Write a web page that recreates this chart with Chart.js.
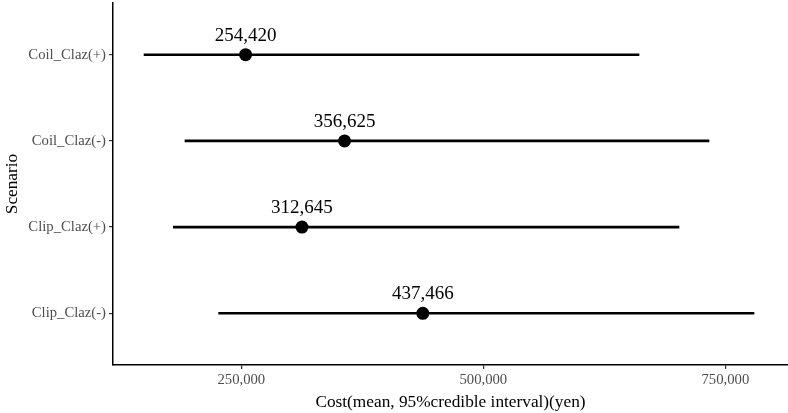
<!DOCTYPE html>
<html>
<head>
<meta charset="utf-8">
<script src="https://cdn.jsdelivr.net/npm/chart.js@4"></script>
<style>
  html, body { margin:0; padding:0; background:#fff; }
  #wrap { width:788px; height:413px; }
</style>
</head>
<body>
<div id="wrap"><canvas id="chart"></canvas></div>
<script>
// ================= DATA =================
// bottom -> top, like the picture (y = 1 is the lowest row)
const scenarios = ["Clip_Claz(-)", "Clip_Claz(+)", "Coil_Claz(-)", "Coil_Claz(+)"];
const meanCost  = [437466, 312645, 356625, 254420];
const lowerCost = [226600, 179800, 191800, 149500];
const upperCost = [779600, 702100, 733100, 660800];
const xTicks    = [250000, 500000, 750000];

const serif = "'Liberation Serif', 'DejaVu Serif', serif";
const fmt = v => v.toLocaleString("en-US");

// ================= LABELS PLUGIN =================
const meanLabels = {
    id: "meanLabels",
    afterDatasetsDraw(chart){
        const {ctx, scales:{x, y}} = chart;
        ctx.save();
        ctx.font = "19px " + serif;
        ctx.fillStyle = "#000";
        ctx.textAlign = "center";
        ctx.textBaseline = "middle";
        meanCost.forEach((m, i) => {
            ctx.fillText(fmt(m), x.getPixelForValue(m), y.getPixelForValue(i+1) - 19);
        });
        ctx.restore();
    }
};

// ================= CHART =================
new Chart(document.getElementById("chart"), {
    type: "bar",
    data: {
        datasets: [
            {
                type: "line",
                data: meanCost.map((m, i) => ({x: m, y: i+1})),
                showLine: false,
                pointRadius: 6.5,
                pointHoverRadius: 6.5,
                pointBackgroundColor: "#000",
                pointBorderWidth: 0,
                order: 0
            },
            {
                type: "bar",
                data: scenarios.map((s, i) => ({x: [lowerCost[i], upperCost[i]], y: i+1})),
                backgroundColor: "#000",
                barThickness: 2,
                order: 1
            }
        ]
    },
    options: {
        indexAxis: "y",
        responsive: true,
        maintainAspectRatio: false,
        animation: false,
        layout: { autoPadding: false, padding: { top: 3, right: 0, left: 0, bottom: 0 } },
        plugins: { legend: {display:false}, tooltip: {enabled:false} },
        scales: {
            x: {
                type: "linear",
                min: 117450,
                max: 814700,
                afterBuildTicks: s => { s.ticks = xTicks.map(v => ({value: v})); },
                afterFit: s => { s.height = 48; s.paddingLeft = 0; s.paddingRight = 0; },
                border: { display:true, color:"#000", width:1.5 },
                grid: { drawOnChartArea:false, drawTicks:true, tickLength:4, color:"#333", lineWidth:1.2 },
                ticks: { color:"#4d4d4d", font:{family:serif, size:14.7}, padding:2, maxRotation:0, callback: v => fmt(v) },
                title: { display:true, text:"Cost(mean, 95%credible interval)(yen)", color:"#000", font:{family:serif, size:17.3}, padding:{top:0, bottom:0} }
            },
            y: {
                type: "linear",
                min: 0.4,
                max: 4.6,
                offset: false,
                afterBuildTicks: s => { s.ticks = scenarios.map((c, i) => ({value: i+1})); },
                afterFit: s => { s.width = 113; s.paddingTop = 0; s.paddingBottom = 0; },
                border: { display:true, color:"#000", width:1.5 },
                grid: { offset:false, drawOnChartArea:false, drawTicks:true, tickLength:4, color:"#333", lineWidth:1.2 },
                ticks: { color:"#4d4d4d", font:{family:serif, size:14.7}, padding:3, callback: v => scenarios[v-1] },
                title: { display:true, text:"Scenario", color:"#000", font:{family:serif, size:17.3}, padding:{top:2, bottom:0} }
            }
        }
    },
    plugins: [meanLabels]
});
</script>
</body>
</html>
